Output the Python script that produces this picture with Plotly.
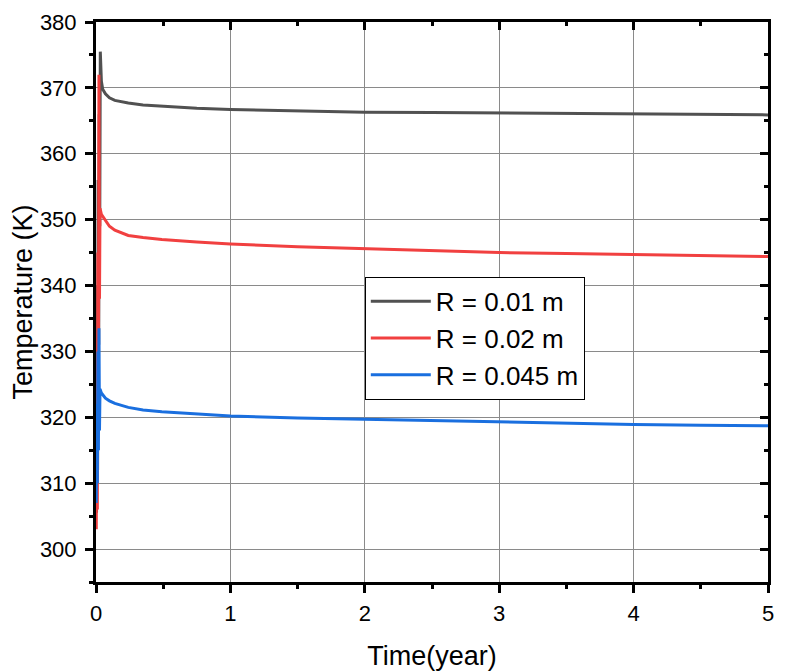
import plotly.graph_objects as go

# ---- data ----
t_gray = [0.004, 0.008, 0.012, 0.016, 0.020, 0.024, 0.028, 0.032, 0.040, 0.050, 0.070, 0.10, 0.14, 0.24,
          0.35, 0.49, 0.75, 1.0, 1.5, 2.0, 2.5, 3.0, 3.5, 4.0, 4.5, 5.0]
T_gray = [305.5, 340.0, 312.0, 356.0, 331.0, 366.0, 349.0, 375.5, 371.0, 369.8, 369.1, 368.5, 368.1, 367.7,
          367.4, 367.2, 366.9, 366.7, 366.5, 366.3, 366.25, 366.2, 366.1, 366.0, 365.95, 365.9]

t_red = [0.002, 0.006, 0.010, 0.014, 0.018, 0.022, 0.026, 0.030, 0.040, 0.070, 0.10, 0.14, 0.24,
         0.35, 0.49, 0.75, 1.0, 1.5, 2.0, 2.5, 3.0, 3.5, 4.0, 4.5, 5.0]
T_red = [303.0, 330.0, 306.0, 345.0, 320.0, 372.0, 338.0, 351.7, 350.8, 349.9, 349.0, 348.4, 347.6,
         347.3, 347.0, 346.6, 346.3, 345.9, 345.6, 345.3, 345.0, 344.85, 344.7, 344.55, 344.4]

t_blue = [0.002, 0.006, 0.010, 0.014, 0.018, 0.022, 0.026, 0.030, 0.040, 0.070, 0.10, 0.14, 0.24,
          0.35, 0.49, 0.75, 1.0, 1.5, 2.0, 2.5, 3.0, 3.5, 4.0, 4.5, 5.0]
T_blue = [307.0, 322.0, 310.0, 330.0, 315.0, 333.5, 318.0, 324.3, 323.7, 322.9, 322.5, 322.1, 321.5,
          321.1, 320.85, 320.5, 320.2, 319.9, 319.7, 319.45, 319.2, 319.05, 318.9, 318.8, 318.7]

names = ["R = 0.01 m", "R = 0.02 m", "R = 0.045 m"]
colors = ["#515151", "#F14040", "#1A6FDF"]

x_ticks = [0, 1, 2, 3, 4, 5]
y_ticks = [300, 310, 320, 330, 340, 350, 360, 370, 380]

fig = go.Figure()
for xs, ys, nm, c in zip([t_gray, t_red, t_blue], [T_gray, T_red, T_blue], names, colors):
    fig.add_trace(go.Scatter(x=xs, y=ys, mode="lines", name=nm,
                             line=dict(color=c, width=3)))

# invisible trace on mirror axes (top / right, inward ticks)
fig.add_trace(go.Scatter(x=[0], y=[300], xaxis="x2", yaxis="y2", mode="markers",
                         marker=dict(opacity=0), showlegend=False, hoverinfo="skip"))

font = "Arial, Liberation Sans, sans-serif"
fig.update_layout(
    width=779, height=663,
    margin=dict(l=88, r=19, t=14, b=89, autoexpand=False),
    paper_bgcolor="white", plot_bgcolor="white",
    font=dict(family=font, color="black"),
    xaxis=dict(range=[0, 5], tickvals=x_ticks, ticks="outside", ticklen=8, tickwidth=3,
               tickcolor="black", showline=True, linecolor="black", linewidth=3,
               showgrid=True, gridcolor="#8a8a8a", gridwidth=1, zeroline=False,
               tickfont=dict(size=22, family=font), ticklabelstandoff=2, automargin=False,
               title=dict(text="Time(year)", font=dict(size=27, family=font), standoff=22),
               minor=dict(dtick=0.5, ticks="outside", ticklen=4, tickwidth=3, tickcolor="black",
                          showgrid=False)),
    yaxis=dict(range=[295, 380], tickvals=y_ticks, ticks="outside", ticklen=8, tickwidth=3,
               tickcolor="black", showline=True, linecolor="black", linewidth=3,
               showgrid=True, gridcolor="#8a8a8a", gridwidth=1, zeroline=False,
               tickfont=dict(size=22, family=font), ticklabelstandoff=4, automargin=False,
               title=dict(text="Temperature (K)", font=dict(size=27, family=font), standoff=10),
               minor=dict(dtick=5, tick0=295, ticks="outside", ticklen=4, tickwidth=3,
                          tickcolor="black", showgrid=False)),
    xaxis2=dict(range=[0, 5], overlaying="x", side="top", tickvals=x_ticks, ticks="inside",
                ticklen=8, tickwidth=3, tickcolor="black", showline=True, linecolor="black",
                linewidth=3, showgrid=False, zeroline=False, showticklabels=False,
                automargin=False,
                minor=dict(dtick=0.5, ticks="inside", ticklen=4, tickwidth=3, tickcolor="black")),
    yaxis2=dict(range=[295, 380], overlaying="y", side="right", tickvals=y_ticks, ticks="inside",
                ticklen=8, tickwidth=3, tickcolor="black", showline=True, linecolor="black",
                linewidth=3, showgrid=False, zeroline=False, showticklabels=False,
                automargin=False,
                minor=dict(dtick=5, tick0=295, ticks="inside", ticklen=4, tickwidth=3,
                           tickcolor="black")),
    legend=dict(x=0.40, y=0.545, xanchor="left", yanchor="top",
                bgcolor="white", bordercolor="black", borderwidth=1,
                font=dict(size=26, family=font), tracegroupgap=0, itemwidth=60),
    showlegend=True,
)

fig.write_html("out.html")
